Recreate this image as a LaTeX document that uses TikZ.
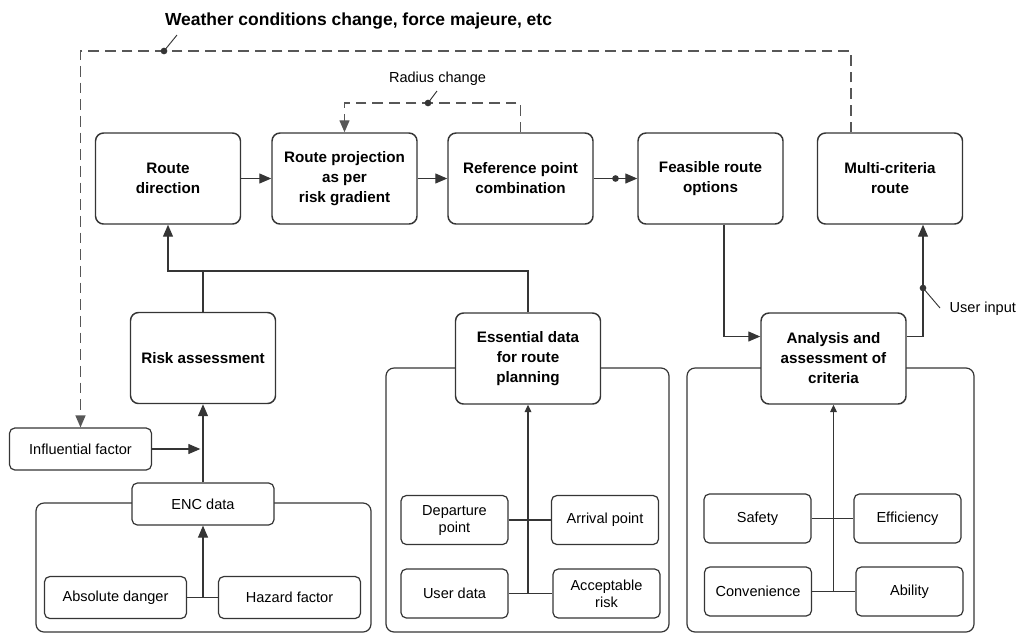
\documentclass[tikz,border=0pt]{standalone}
\usepackage{fontspec}
\setmainfont{Liberation Sans}
\usetikzlibrary{arrows.meta}
\definecolor{edge}{HTML}{353535}
\definecolor{dashgray}{HTML}{575757}

\tikzset{
  bigbox/.style={draw=edge, line width=1.1pt, rounded corners=6pt, fill=white,
    minimum width=108.75pt, minimum height=68.25pt, align=center,
    font=\fontsize{11.4}{15}\selectfont\bfseries},
  smallbox/.style={draw=edge, line width=0.9pt, rounded corners=4pt, fill=white,
    minimum width=80.25pt, minimum height=36.75pt, align=center,
    font=\fontsize{10.9}{12.75}\selectfont},
  widebox/.style={smallbox, minimum width=106.5pt, minimum height=31.5pt},
  panel/.style={draw=edge, line width=0.9pt, rounded corners=6pt},
  link/.style={draw=edge, line width=0.9pt},
  flow/.style={link, -{Triangle[length=9pt,width=7.5pt]}},
  smallflow/.style={link, -{Triangle[length=5.5pt,width=5pt]}},
  feedback/.style={draw=dashgray, line width=1pt, dash pattern=on 8pt off 4.5pt,
    -{Triangle[length=9pt,width=7.5pt]}},
  dot/.style={circle, fill=edge, inner sep=0pt, minimum size=5pt},
  plain/.style={font=\fontsize{10.9}{12.75}\selectfont},
}

\begin{document}
\begin{tikzpicture}[x=0.75pt,y=-0.75pt]
\useasboundingbox (0,0) rectangle (1017,633);

\draw[panel] (36,503) rectangle (371,632);
\draw[panel] (386,368) rectangle (669,632);
\draw[panel] (687,368) rectangle (974,632);

\node[bigbox] (dir) at (168,178.5) {Route\\direction};
\node[bigbox] (proj) at (344.5,178.5) {Route projection\\as per\\risk gradient};
\node[bigbox] (ref) at (520.5,178.5) {Reference point\\combination};
\node[bigbox] (feas) at (710.5,178.5) {Feasible route\\options};
\node[bigbox] (multi) at (890,178.5) {Multi-criteria\\route};
\node[bigbox] (risk) at (203,358) {Risk assessment};
\node[bigbox] (ess) at (528,358.5) {Essential data\\for route\\planning};
\node[bigbox] (ana) at (833.5,358.5) {Analysis and\\assessment of\\criteria};

\node[widebox] (infl) at (80.5,449) {Influential factor};
\node[widebox] (enc) at (203,504) {ENC data};
\node[widebox] (absd) at (115.5,597.5) {Absolute danger};
\node[widebox] (haz) at (289.5,597.5) {Hazard factor};
\node[smallbox] (depart) at (454.5,520) {Departure\\point};
\node[smallbox] (arrive) at (605,520) {Arrival point};
\node[smallbox] (user) at (454.5,593.5) {User data};
\node[smallbox] (accept) at (606.5,593.5) {Acceptable\\risk};
\node[smallbox] (safety) at (757.5,518.5) {Safety};
\node[smallbox] (effic) at (907.5,518.5) {Efficiency};
\node[smallbox] (conv) at (758,591.5) {Convenience};
\node[smallbox] (ability) at (909.5,591.5) {Ability};

\node[font=\fontsize{13.1}{15}\selectfont\bfseries] (title) at (358.5,21) {Weather conditions change, force majeure, etc};
\node[plain] (radius) at (437.5,79) {Radius change};
\node[plain, anchor=west] (uin) at (945,309) {User input};

\draw[flow] (dir.east) -- (proj.west);
\draw[flow] (proj.east) -- (ref.west);
\draw[flow] (ref.east) -- node[dot] (rfdot) {} (feas.west);

\coordinate (wtop) at (0,51);
\draw[feedback] ([xshift=-29.25pt]multi.north) |- (wtop -| infl.north) -- (infl.north);
\node[dot] (wdot) at (164,51) {};
\coordinate (wlead) at (177,35);
\draw[link, line width=0.7pt] (wdot.center) -- (wlead);

\coordinate (rtop) at (0,103);
\draw[feedback] (ref.north) |- (rtop -| proj.north) -- (proj.north);
\node[dot] (rdot) at (428,103) {};
\coordinate (rlead) at (437,91);
\draw[link, line width=0.7pt] (rdot.center) -- (rlead);

\coordinate (bus) at (0,271);
\draw[flow] (risk.north) |- (bus -| dir.south) -- (dir.south);
\draw[link] (ess.north) |- (bus -| risk.north);
\draw[flow, shorten >=2pt] (infl.east) -- (infl.east -| risk.south);
\draw[flow] (enc.north) -- (risk.south);

\draw[link] (absd.east) -- (haz.west);
\draw[flow] (absd.east -| enc.south) -- (enc.south);

\draw[link] (depart.east) -- (arrive.west);
\draw[link] (user.east) -- (accept.west);
\draw[smallflow] (user.east -| ess.south) -- (ess.south);

\draw[link] (safety.east) -- (effic.west);
\draw[link] (conv.east) -- (ability.west);
\draw[smallflow] (conv.east -| ana.south) -- (ana.south);

\draw[flow] ([xshift=10.1pt]feas.south) |- ([yshift=16.5pt]ana.west);
\draw[flow] ([yshift=16.5pt]ana.east) -| ([xshift=24.75pt]multi.south);
\node[dot] (udot) at (923,288) {};
\coordinate (ulead) at (940,308);
\draw[link, line width=0.7pt] (udot.center) -- (ulead);
\end{tikzpicture}
\end{document}
